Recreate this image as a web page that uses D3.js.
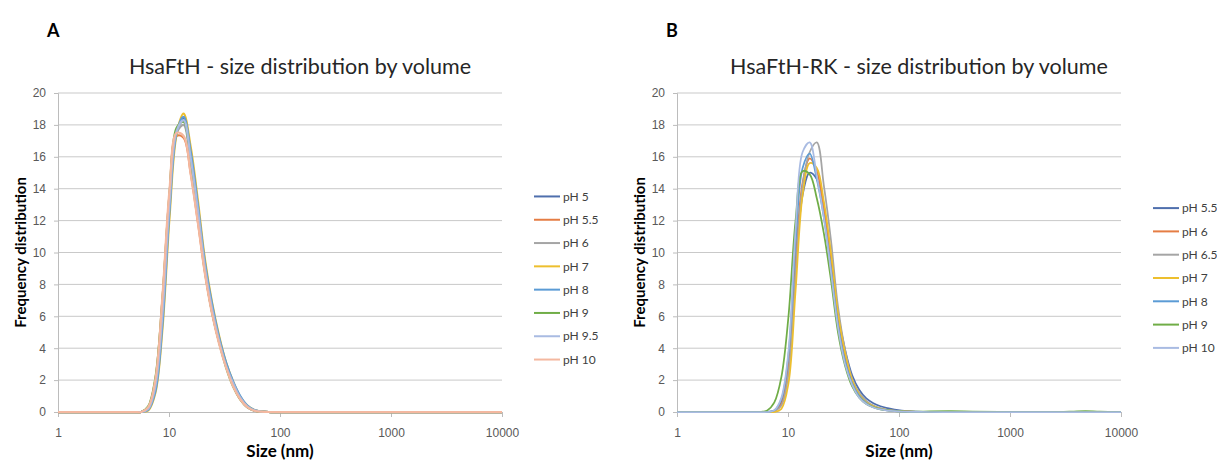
<!DOCTYPE html>
<html>
<head>
<meta charset="utf-8">
<script src="https://cdn.jsdelivr.net/npm/d3@7"></script>
<style>
  body { margin: 0; background: #fff; }
  svg { display: block; font-family: Lato, "Open Sans", sans-serif; }
</style>
</head>
<body>
<div id="chart-container"></div>
<script>
// size bins (nm), shared by every series
const sizes = [1, 4.849, 5.615, 6.503, 7.531, 8.721, 10.10, 11.70, 13.54, 15.69, 18.17, 21.04, 24.36, 28.21,
  32.67, 37.84, 43.82, 50.75, 58.77, 68.06, 78.82, 91.28, 105.7, 141.8, 190.1, 295.3, 458.7, 1000, 2305, 3580,
  4801, 6439, 10000];

const xTicks = [1, 10, 100, 1000, 10000];
const yTicks = [0, 2, 4, 6, 8, 10, 12, 14, 16, 18, 20];

// Panel A - HsaFtH
const namesA = ["pH 5", "pH 5.5", "pH 6", "pH 7", "pH 8", "pH 9", "pH 9.5", "pH 10"];
const colorsA = ["#4f6fad", "#e57d44", "#a5a5a5", "#edbf2e", "#5b9bd5", "#70ad47", "#a9bbe2", "#f4b8a0"];
const pH5 = [0, 0, 0, 0.2, 1.6, 6.0, 13.0, 17.6, 18.4, 16.0, 12.8, 9.2, 6.6, 4.6, 3.0, 1.8, 0.9, 0.35, 0.1, 0.03, 0, 0, 0, 0, 0, 0, 0, 0, 0, 0, 0, 0, 0];
const pH5_5 = [0, 0, 0, 0.3, 2.0, 7.0, 13.6, 17.3, 17.2, 15.0, 12.0, 8.8, 6.3, 4.4, 2.9, 1.7, 0.8, 0.3, 0.08, 0.02, 0, 0, 0, 0, 0, 0, 0, 0, 0, 0, 0, 0, 0];
const pH6 = [0, 0, 0, 0.25, 1.8, 6.5, 13.3, 17.5, 18.0, 15.6, 12.4, 9.0, 6.4, 4.5, 2.9, 1.7, 0.85, 0.3, 0.1, 0.03, 0, 0, 0, 0, 0, 0, 0, 0, 0, 0, 0, 0, 0];
const pH7 = [0, 0, 0, 0.1, 1.2, 5.2, 12.2, 17.4, 18.7, 16.6, 13.3, 9.6, 6.9, 4.8, 3.1, 1.9, 0.95, 0.4, 0.12, 0.03, 0, 0, 0, 0, 0, 0, 0, 0, 0, 0, 0, 0, 0];
const pH8 = [0, 0, 0, 0.15, 1.3, 5.5, 12.6, 17.5, 18.5, 16.3, 13.0, 9.4, 6.8, 4.7, 3.1, 1.9, 1.0, 0.4, 0.12, 0.03, 0, 0, 0, 0, 0, 0, 0, 0, 0, 0, 0, 0, 0];
const pH9 = [0, 0, 0, 0.35, 2.1, 7.0, 13.6, 17.8, 18.2, 15.6, 12.3, 8.9, 6.3, 4.4, 2.8, 1.6, 0.8, 0.3, 0.08, 0.02, 0, 0, 0, 0, 0, 0, 0, 0, 0, 0, 0, 0, 0];
const pH9_5 = [0, 0, 0, 0.2, 1.6, 6.1, 13.1, 17.6, 18.3, 15.9, 12.7, 9.1, 6.5, 4.5, 2.9, 1.8, 0.9, 0.35, 0.1, 0.03, 0, 0, 0, 0, 0, 0, 0, 0, 0, 0, 0, 0, 0];
const pH10 = [0, 0, 0, 0.3, 2.0, 7.2, 13.9, 17.5, 17.3, 14.9, 11.9, 8.7, 6.2, 4.3, 2.8, 1.6, 0.8, 0.3, 0.08, 0.02, 0, 0, 0, 0, 0, 0, 0, 0, 0, 0, 0, 0, 0];

// Panel B - HsaFtH-RK
const namesB = ["pH 5.5", "pH 6", "pH 6.5", "pH 7", "pH 8", "pH 9", "pH 10"];
const colorsB = ["#4f6fad", "#e57d44", "#a5a5a5", "#edbf2e", "#5b9bd5", "#70ad47", "#a9bbe2"];
const rk5_5 = [0, 0, 0, 0, 0.1, 0.6, 2.8, 9.0, 13.6, 15.0, 14.6, 12.6, 9.8, 6.2, 3.9, 2.3, 1.4, 0.85, 0.55, 0.36, 0.24, 0.15, 0.09, 0.03, 0, 0, 0, 0, 0, 0, 0, 0, 0];
const rk6 = [0, 0, 0, 0, 0.05, 0.5, 2.8, 9.4, 14.4, 15.9, 15.1, 12.8, 9.6, 5.8, 3.5, 1.9, 1.1, 0.6, 0.35, 0.2, 0.12, 0.07, 0.04, 0.01, 0, 0, 0, 0, 0, 0, 0, 0, 0];
const rk6_5 = [0, 0, 0, 0, 0.05, 0.4, 2.4, 8.6, 14.2, 16.3, 16.9, 14.2, 10.8, 6.6, 3.9, 2.1, 1.2, 0.7, 0.4, 0.24, 0.14, 0.08, 0.04, 0.01, 0, 0, 0, 0, 0, 0, 0, 0, 0];
const rk7 = [0, 0, 0, 0, 0, 0.2, 1.8, 7.6, 13.6, 15.6, 15.3, 13.2, 10.0, 6.2, 3.7, 2.0, 1.1, 0.6, 0.35, 0.2, 0.12, 0.07, 0.04, 0.01, 0, 0, 0, 0, 0, 0, 0, 0, 0];
const rk8 = [0, 0, 0, 0, 0.1, 0.8, 3.6, 10.6, 15.3, 16.2, 14.6, 12.2, 9.0, 5.5, 3.2, 1.8, 1.0, 0.55, 0.3, 0.18, 0.1, 0.06, 0.03, 0.01, 0, 0, 0, 0, 0, 0, 0, 0, 0];
const rk9 = [0, 0, 0, 0.1, 0.6, 2.2, 6.0, 12.0, 15.1, 14.9, 13.4, 11.2, 8.3, 5.0, 2.9, 1.6, 0.9, 0.5, 0.3, 0.17, 0.1, 0.06, 0.04, 0.02, 0.04, 0.05, 0.03, 0, 0, 0.03, 0.06, 0.02, 0];
const rk10 = [0, 0, 0, 0, 0.1, 0.9, 3.8, 11.4, 16.3, 16.9, 14.8, 12.2, 8.8, 5.3, 3.0, 1.7, 0.9, 0.5, 0.28, 0.16, 0.09, 0.05, 0.03, 0.01, 0, 0, 0, 0, 0, 0, 0, 0, 0];

const svg = d3.select("#chart-container").append("svg")
  .attr("width", 1217).attr("height", 461);

function drawPanel(left, letter, title, names, colors, series, lineWidth) {
  const width = 444;
  const top = 93, bottom = 412;
  const g = svg.append("g").attr("transform", `translate(${left},0)`);

  const x = d3.scaleLog().domain([1, 10000]).range([0, width]);
  const y = d3.scaleLinear().domain([0, 20]).range([bottom, top]);

  // gridlines
  g.append("g").selectAll("line").data(yTicks.filter(d => d > 0)).join("line")
    .attr("x1", 0).attr("x2", width)
    .attr("y1", d => y(d)).attr("y2", d => y(d))
    .attr("stroke", "#c9c9c9").attr("stroke-width", 1);

  // y axis
  const yAxis = g.append("g").call(d3.axisLeft(y).tickValues(yTicks).tickSize(4).tickPadding(8));
  yAxis.select(".domain").attr("stroke", "#bcbcbc");
  yAxis.selectAll(".tick line").attr("stroke", "#bcbcbc");
  yAxis.selectAll("text").attr("fill", "#595959").style("font-size", "12px");

  // x axis
  const xAxis = g.append("g").attr("transform", `translate(0,${bottom})`)
    .call(d3.axisBottom(x).tickValues(xTicks).tickFormat(d3.format("d")).tickSize(5).tickPadding(11));
  xAxis.select(".domain").attr("stroke", "#bcbcbc");
  xAxis.selectAll(".tick line").attr("stroke", "#bcbcbc");
  xAxis.selectAll("text").attr("fill", "#595959").style("font-size", "12px");

  // lines (smoothed like the spreadsheet curves)
  const line = d3.line()
    .x((d, i) => x(sizes[i]))
    .y(d => y(d))
    .curve(d3.curveCatmullRom.alpha(0.5));
  g.append("g").selectAll("path").data(series).join("path")
    .attr("d", d => line(d))
    .attr("fill", "none")
    .attr("stroke", (d, i) => colors[i])
    .attr("stroke-width", lineWidth);

  // legend
  const step = 23.3;
  const ly0 = 278 - step * (names.length - 1) / 2;
  const leg = g.append("g").selectAll("g").data(names).join("g")
    .attr("transform", (d, i) => `translate(${width + 32},${ly0 + i * step})`);
  leg.append("line").attr("x1", 0).attr("x2", 26)
    .attr("stroke", (d, i) => colors[i]).attr("stroke-width", 2);
  leg.append("text").attr("x", 29).attr("dy", "0.35em")
    .style("font-size", "12px").attr("fill", "#404040").text(d => d);

  // titles
  g.append("text").attr("x", -11).attr("y", 37)
    .style("font-size", "18px").style("font-weight", "bold").attr("fill", "#000").text(letter);
  g.append("text").attr("x", width / 2 + 20).attr("y", 74).attr("text-anchor", "middle")
    .style("font-size", "21.5px").attr("fill", "#262626").text(title);
  g.append("text").attr("x", width / 2).attr("y", 457).attr("text-anchor", "middle")
    .style("font-size", "17px").style("font-weight", "bold").attr("fill", "#000").text("Size (nm)");
  g.append("text").attr("transform", `translate(-32,${(top + bottom) / 2}) rotate(-90)`)
    .attr("text-anchor", "middle")
    .style("font-size", "15px").style("font-weight", "bold").attr("fill", "#000").text("Frequency distribution");
}

drawPanel(58, "A", "HsaFtH - size distribution by volume", namesA, colorsA,
  [pH5, pH5_5, pH6, pH7, pH8, pH9, pH9_5, pH10], 2.25);
drawPanel(677, "B", "HsaFtH-RK - size distribution by volume", namesB, colorsB,
  [rk5_5, rk6, rk6_5, rk7, rk8, rk9, rk10], 1.75);
</script>
</body>
</html>
